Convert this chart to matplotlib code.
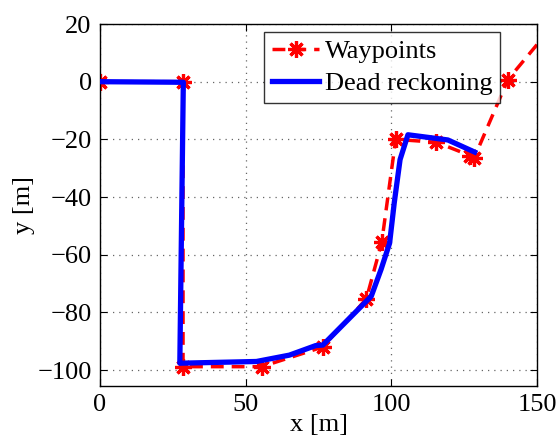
import matplotlib
matplotlib.use("Agg")
import matplotlib.pyplot as plt

# Waypoints (red dashed with asterisks)
wp_x = [0, 28.5, 28.5, 55.5, 76.4, 91.4, 96.7, 101.5, 115.5, 127.0, 128.5, 140.0, 160.0]
wp_y = [0, 0, -98.8, -98.8, -92.0, -75.4, -55.7, -20.0, -21.0, -25.6, -26.3, 0.7, 25.0]

# Dead reckoning (blue solid)
dr_x = [0, 28.6, 27.4, 53.7, 65.0, 74.0, 76.5, 93.1, 96.5, 99.4, 101.0, 103.0, 105.7, 119.4, 128.6]
dr_y = [0, -0.2, -97.6, -97.0, -94.8, -91.5, -91.3, -74.4, -65.0, -56.0, -42.0, -27.0, -18.4, -20.2, -24.4]

xticks = [0, 50, 100, 150]
yticks = [-100, -80, -60, -40, -20, 0, 20]

plt.rcParams['font.family'] = ['Liberation Serif', 'DejaVu Serif']

fig = plt.figure(figsize=(5.6, 4.43), dpi=100)
ax = fig.add_axes([100/560, 1-386/443, (537-100)/560, (386-24)/443])

ax.plot(wp_x, wp_y, color='red', linewidth=2.5, linestyle=(0, (3.7, 2.3)),
        marker=(8, 2, 0), markersize=12, markeredgewidth=2.3,
        markeredgecolor='red', label='Waypoints', zorder=2)
ax.plot(dr_x, dr_y, color='blue', linewidth=3.8, label='Dead reckoning', zorder=3)

ax.set_xlim(0, 150)
ax.set_ylim(-105.5, 20)
ax.set_xticks(xticks)
ax.set_yticks(yticks)
ax.set_yticklabels([str(v).replace('-', '\u2212') for v in yticks])
ax.grid(True, linestyle=(0, (1, 4)), color='#666666', linewidth=0.9)
ax.tick_params(direction='in', top=True, right=True, labelsize=19, length=5, pad=6)
for s in ax.spines.values():
    s.set_linewidth(1.0)

ax.set_xlabel('x [m]', fontsize=19, labelpad=-2)
ax.set_ylabel('y [m]', fontsize=19, labelpad=2)

leg = ax.legend(loc='upper left', bbox_to_anchor=((264-100)/437, 1-(32-24)/362),
                fontsize=19, frameon=True, fancybox=False, borderpad=0.3,
                handlelength=1.8, handletextpad=0.2, labelspacing=0.3,
                borderaxespad=0.0)
leg.get_frame().set_edgecolor('black')
leg.get_frame().set_linewidth(1.0)

fig.savefig('out.png', dpi=100)
